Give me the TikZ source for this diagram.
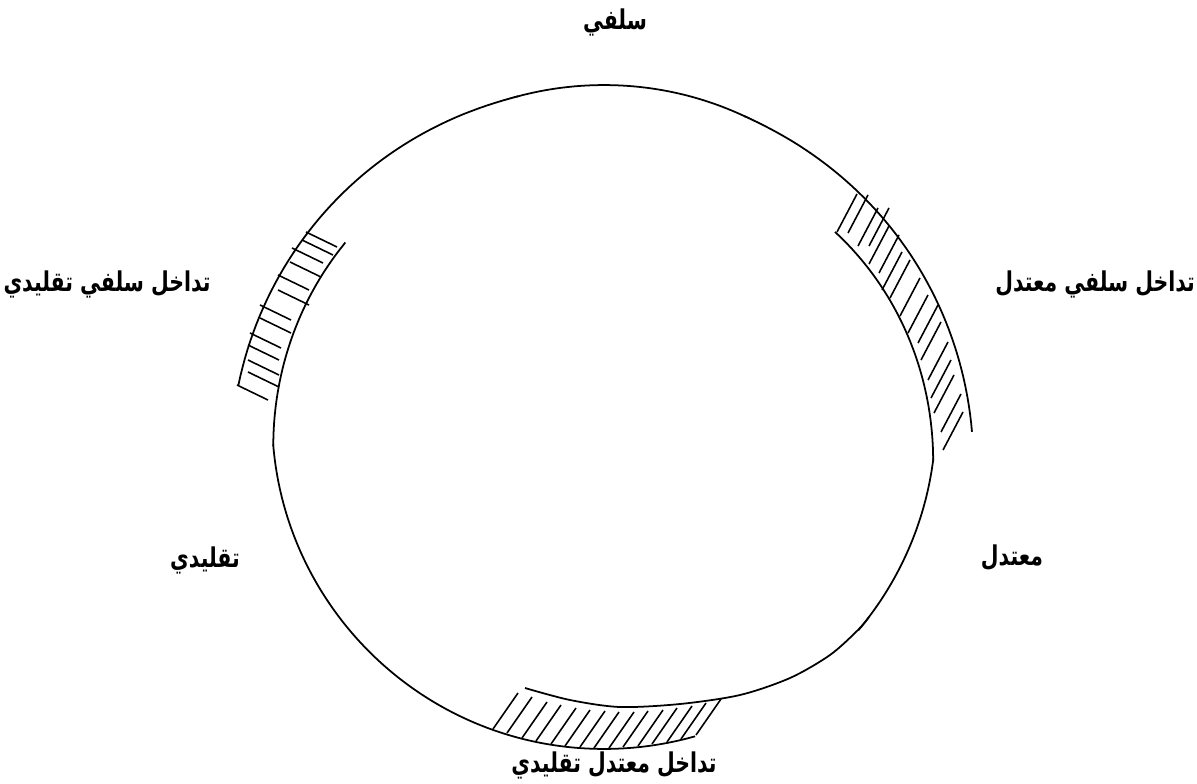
\documentclass[tikz,border=0pt]{standalone}
\usepackage{fontspec}
\newfontfamily\arabicfont[Script=Arabic,FakeStretch=0.75]{DejaVu Sans}
\TeXXeTstate=1
\usetikzlibrary{positioning}

\begin{document}
\begin{tikzpicture}[x=0.02cm, y=-0.02cm,
    lbl/.style={font=\arabicfont\bfseries\fontsize{15.5}{18}\selectfont, inner sep=0pt},
    rim/.style={line width=1pt},
    hatch/.style={line width=0.9pt}
  ]
    \useasboundingbox (0,0) rectangle (1197,784);
    % the ring
    \coordinate (ctr) at (604,417);
    \draw[rim] (ctr) circle[radius=6.64cm];

    % right band (white fill hides the ring under it)
    \fill[white] plot[domain=-65:2.3, samples=50, variable=\t] ({604+(332+36.3*pow((\t+65)/67.3,1.5))*cos(\t)}, {417+(332+36.3*pow((\t+65)/67.3,1.5))*sin(\t)})
      -- plot[domain=7.5:-38.7, samples=40, variable=\t] ({604+(296+0.78*(\t+38.7))*cos(\t)}, {417+(296+0.78*(\t+38.7))*sin(\t)}) -- cycle;
    \draw[rim] plot[domain=-65:2.3, samples=50, variable=\t] ({604+(332+36.3*pow((\t+65)/67.3,1.5))*cos(\t)}, {417+(332+36.3*pow((\t+65)/67.3,1.5))*sin(\t)});
    \draw[rim] plot[domain=-38.7:7.5, samples=40, variable=\t] ({604+(296+0.78*(\t+38.7))*cos(\t)}, {417+(296+0.78*(\t+38.7))*sin(\t)});
    \foreach \p in {(837,232),(848,233),(858,246),(869,246),(869,264),(879,273),(882,290),(890,298),
        (900,316),(908,333),(918,343),(921,360),(928,380),(931,398),(934,413),(941,432),(943,450)}
      \draw[hatch] \p -- ++(20,-38);

    % left band
    \fill[white] plot[domain=255:185, samples=50, variable=\t] ({604+(332+35*pow((255-\t)/70,1.5))*cos(\t)}, {417+(332+35*pow((255-\t)/70,1.5))*sin(\t)})
      -- plot[domain=175:214, samples=30, variable=\t] ({604+(312+20*(214-\t)/39)*cos(\t)}, {417+(312+20*(214-\t)/39)*sin(\t)}) -- cycle;
    \draw[rim] plot[domain=255:185, samples=50, variable=\t] ({604+(332+35*pow((255-\t)/70,1.5))*cos(\t)}, {417+(332+35*pow((255-\t)/70,1.5))*sin(\t)});
    \draw[rim] plot[domain=214:175, samples=30, variable=\t] ({604+(312+20*(214-\t)/39)*cos(\t)}, {417+(312+20*(214-\t)/39)*sin(\t)});
    \foreach \p in {(306,232),(302,240),(292,248),(290,262),(278,275),(278,290),(260,305),(260,318),
        (250,333),(248,345),(248,360),(248,372),(237,385)}
      \draw[hatch] \p -- ++(31,15);

    % bottom band
    \fill[white] plot[smooth] coordinates {(680,704) (740,695) (790,678) (830,655) (858,630)}
      -- (861,633) -- (837,659) -- (811,682) -- (782,702) -- (751,719) -- (719,733) -- (697,740) -- cycle;
    \draw[rim] plot[smooth] coordinates {(525,688) (570,700) (620,707) (680,704) (740,695) (790,678) (830,655) (858,630) (869,617)};
    \foreach \p in {(493,729),(507,733),(522,738),(536,741),(551,744),(565,746),(580,747),(594,748),
        (609,748),(623,747),(638,746),(652,744),(667,742),(681,739),(696,735)}
      \draw[hatch] \p -- ++(25,-36);

    % labels
    \node[lbl] (salafi) at (615,22) {\beginR سلفي\endR};
    \node[lbl] (salafiTaqlidi) at (107,284) {\beginR تداخل سلفي تقليدي\endR};
    \node[lbl] (salafiMutadil) at (1095,284) {\beginR تداخل سلفي معتدل\endR};
    \node[lbl] (taqlidi) at (205,560) {\beginR تقليدي\endR};
    \node[lbl] (mutadil) at (1012,558) {\beginR معتدل\endR};
    \node[lbl] (mutadilTaqlidi) at (614,765) {\beginR تداخل معتدل تقليدي\endR};
\end{tikzpicture}
\end{document}
